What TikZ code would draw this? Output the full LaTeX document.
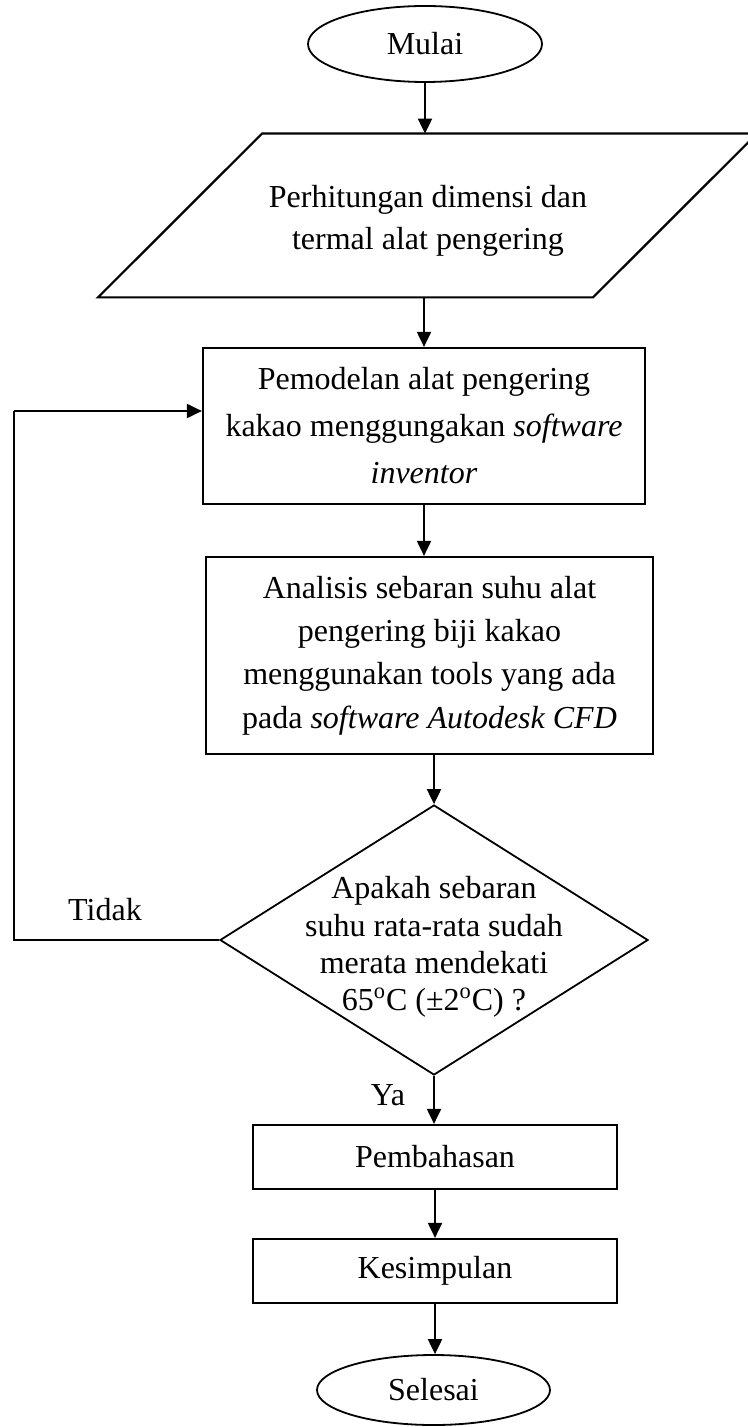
\documentclass[tikz,border=0pt]{standalone}
\usepackage{fontspec}
\setmainfont{Liberation Serif}
\usetikzlibrary{shapes.geometric,arrows.meta,calc}
\begin{document}
\begin{tikzpicture}[x=0.5pt,y=-0.5pt,
  every node/.style={font=\fontsize{16pt}{23pt}\selectfont, align=center, inner sep=0pt},
  term/.style={draw, ellipse, line width=0.9pt},
  proc/.style={draw, rectangle, line width=1.1pt},
  arr/.style={line width=1pt, -{Triangle[length=7.5pt,width=7pt]}},
  conn/.style={line width=1pt}]
\useasboundingbox (0,0) rectangle (748,1427);

\node[term, minimum width=117pt, minimum height=38pt] (start) at (425,44) {Mulai};

\node[minimum width=250pt, minimum height=81.5pt] (para) at (427.5,215.5) {};
\draw[line width=1.1pt] ($(para.north)+(-165.5,0)$) -- ($(para.north)+(329.5,0)$)
  -- ($(para.south)+(165.5,0)$) -- ($(para.south)+(-329.5,0)$) -- cycle;
\node[font=\fontsize{16pt}{21pt}\selectfont] (paratext) at (428,221)
  {Perhitungan dimensi dan\\termal alat pengering};

\node[proc, minimum width=221pt, minimum height=78pt, font=\fontsize{16pt}{23.5pt}\selectfont] (model) at (424,426)
  {Pemodelan alat pengering\\kakao menggungakan \textit{software}\\\textit{inventor}};

\node[proc, minimum width=223.5pt, minimum height=98.5pt, font=\fontsize{16pt}{21.7pt}\selectfont] (anal) at (429.5,655.5)
  {Analisis sebaran suhu alat\\pengering biji kakao\\menggunakan tools yang ada\\pada \textit{software Autodesk CFD}};

\node[draw, diamond, line width=0.9pt, minimum width=214pt, minimum height=135pt] (dec) at (434,940) {};
\node[font=\fontsize{16pt}{18.7pt}\selectfont] (dectext) at (434,947)
  {Apakah sebaran\\suhu rata-rata sudah\\merata mendekati\\65\textsuperscript{o}C (±2\textsuperscript{o}C) ?};

\node[proc, minimum width=182pt, minimum height=32pt] (bahas) at (435,1157) {Pembahasan};
\node[proc, minimum width=182pt, minimum height=32pt] (simpul) at (435,1271) {Kesimpulan};
\node[term, minimum width=116.5pt, minimum height=35pt] (end) at (433.5,1390) {Selesai};

\node (tidak) at (105,910) {Tidak};
\node (ya) at (388,1095) {Ya};

\draw[arr] (start.south) -- (para.north -| start.south);
\draw[arr] (para.south -| model.north) -- (model.north);
\draw[arr] (model.south) -- (model.south |- anal.north);
\draw[arr] (anal.south -| dec.north) -- (dec.north);
\draw[arr] (dec.south) -- (dec.south |- bahas.north);
\draw[arr] (bahas.south) -- (simpul.north);
\draw[arr] (simpul.south) -- (simpul.south |- end.north);

\coordinate (lp) at (14,411);
\draw[conn] (dec.west) -| (lp);
\draw[arr] (lp) -- (lp -| model.west);
\end{tikzpicture}
\end{document}
